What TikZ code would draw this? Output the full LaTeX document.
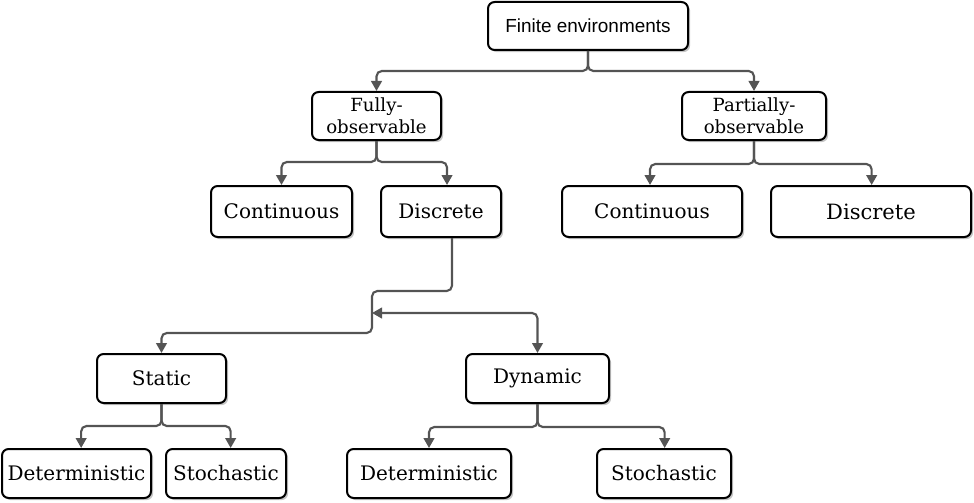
\documentclass[tikz,border=0pt]{standalone}
\usepackage{fontspec}
\setmainfont{DejaVu Serif}
\newfontfamily\headfont{Liberation Sans}
\usepackage{tikz}
\usetikzlibrary{arrows.meta, shadows}
\tikzset{
  box/.style={draw=black, line width=1.5pt, rounded corners=5pt, fill=white,
    drop shadow={shadow xshift=1.6pt, shadow yshift=-1.6pt, fill=black!45, opacity=0.5},
    font=\fontsize{15}{17}\selectfont, minimum height=37pt, inner sep=2pt},
  twoline/.style={font=\fontsize{13.6}{16.5}\selectfont, align=center},
  conn/.style={draw=black!67, line width=1.6pt, rounded corners=4pt,
    -{Triangle[length=7.5pt, width=8pt]}},
  bothconn/.style={conn, {Triangle[length=7.5pt, width=8pt]}-{Triangle[length=7.5pt, width=8pt]}}
}

\begin{document}
\begin{tikzpicture}[x=0.75pt, y=-0.75pt]
  \useasboundingbox (0,0) rectangle (974,503);
  % levels of the tree
  \node[box, minimum width=150pt, minimum height=36pt, font=\headfont\fontsize{14.2}{17}\selectfont] (fin) at (588,26) {Finite environments\hspace{9pt}};
  \node[box, twoline, minimum width=96.75pt, minimum height=36pt] (full) at (376.5,116) {Fully-\\observable};
  \node[box, twoline, minimum width=108pt, minimum height=36pt] (part) at (754,116) {Partially-\\observable};
  \node[box, minimum width=105.75pt, minimum height=38.25pt] (contL) at (281.5,211.5) {Continuous};
  \node[box, minimum width=90pt, minimum height=38.25pt] (discL) at (441,211.5) {Discrete};
  \node[box, minimum width=135pt, minimum height=38.25pt] (contR) at (652,211.5) {Continuous};
  \node[box, minimum width=150pt, minimum height=38.25pt, font=\fontsize{15.8}{17}\selectfont] (discR) at (871,211.5) {Discrete};
  \node[box, minimum width=96.75pt, minimum height=36.75pt] (stat) at (161.5,378.5) {Static};
  \node[box, minimum width=107.25pt, minimum height=36.75pt] (dyn) at (537.5,378.5) {Dynamic};
  \node[box, minimum width=111.75pt, minimum height=36.75pt] (detL) at (76.5,473.5) {Deterministic};
  \node[box, minimum width=90pt, minimum height=36.75pt] (stoL) at (226,473.5) {Stochastic};
  \node[box, minimum width=123pt, minimum height=36.75pt] (detR) at (429,473.5) {Deterministic};
  \node[box, minimum width=100.5pt, minimum height=36.75pt] (stoR) at (664,473.5) {Stochastic};
  \coordinate (split) at (372,313);

  % forks from parent to children
  \foreach \p/\c/\d/\s in {fin/full/20/0pt, fin/part/20/0pt,
      full/contL/21/0pt, full/discL/21/4.5pt,
      part/contR/23/-1.5pt, part/discR/23/0.5pt,
      stat/detL/22/3.5pt, stat/stoL/22/3.5pt,
      dyn/detR/23/0pt, dyn/stoR/23/0.5pt}
    \draw[conn] (\p.south) -- ++(0,\d) -| ([xshift=\s]\c.north);

  % Discrete to Static / Dynamic
  \draw[conn] ([xshift=8.25pt]discL.south) -- ++(0,53) -| (split) -- ++(0,20) -| (stat.north);
  \draw[bothconn] (split) -| (dyn.north);
\end{tikzpicture}
\end{document}
